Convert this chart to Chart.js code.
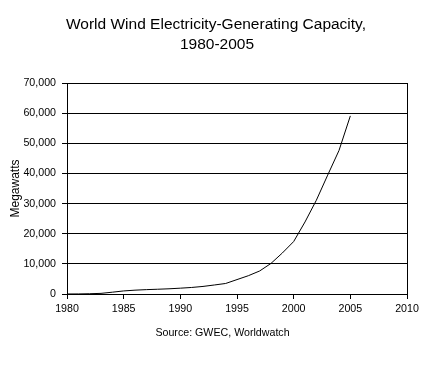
<!DOCTYPE html>
<html>
<head>
<meta charset="utf-8">
<script src="https://cdn.jsdelivr.net/npm/chart.js@4/dist/chart.umd.min.js"></script>
<style>
html,body{margin:0;padding:0;background:#fff;}
canvas{display:block;}
</style>
</head>
<body>
<canvas id="c" width="446" height="388"></canvas>
<script>
const titleLines = ["World Wind Electricity-Generating Capacity,", "1980-2005"];
const sourceText = "Source: GWEC, Worldwatch";
const yAxisTitle = "Megawatts";
const years = [1980,1981,1982,1983,1984,1985,1986,1987,1988,1989,1990,1991,1992,1993,1994,1995,1996,1997,1998,1999,2000,2001,2002,2003,2004,2005];
const capacityMW = [10,25,90,210,600,1020,1270,1450,1580,1730,1930,2170,2510,2990,3490,4780,6070,7640,10150,13600,17400,23900,31100,39431,47620,59084];
const xTicks = [1980,1985,1990,1995,2000,2005,2010];
const yTicks = [0,10000,20000,30000,40000,50000,60000,70000];

const FONT = "'Liberation Sans', Arial, sans-serif";

const textPlugin = {
  id: 'texts',
  afterDraw(chart) {
    const ctx = chart.ctx;
    ctx.save();
    ctx.fillStyle = '#000';
    ctx.textAlign = 'center';
    ctx.textBaseline = 'alphabetic';
    ctx.font = "15.5px " + FONT;
    ctx.fillText(titleLines[0], 216, 29);
    ctx.fillText(titleLines[1], 217, 49);
    ctx.font = "10.67px " + FONT;
    ctx.fillText(sourceText, 222.5, 336);
    ctx.restore();
  }
};

const points = years.map((y, i) => ({x: y, y: capacityMW[i]}));

new Chart(document.getElementById('c'), {
  type: 'line',
  data: {
    datasets: [{
      data: points,
      borderColor: '#000',
      borderWidth: 1,
      pointRadius: 0,
      tension: 0,
      fill: false
    }]
  },
  options: {
    responsive: false,
    animation: false,
    locale: 'en-US',
    layout: { padding: { left: 0, right: 39, top: 83, bottom: 64 } },
    plugins: { legend: { display: false }, tooltip: { enabled: false } },
    scales: {
      x: {
        type: 'linear',
        min: 1980, max: 2010,
        afterBuildTicks(axis) { axis.ticks = xTicks.map(v => ({value: v})); },
        afterFit(axis) { axis.height = 30; },
        ticks: {
          color: '#000',
          font: { family: FONT, size: 10.67 },
          padding: 4,
          maxRotation: 0,
          autoSkip: false,
          callback: v => String(v)
        },
        grid: {
          color: ctx => (ctx.tick && ctx.tick.value === 2010) ? '#000' : 'rgba(0,0,0,0)',
          tickColor: '#000',
          tickLength: 5,
          lineWidth: 1
        },
        border: { color: '#000', width: 1 }
      },
      y: {
        min: 0, max: 70000,
        afterBuildTicks(axis) { axis.ticks = yTicks.map(v => ({value: v})); },
        afterFit(axis) { axis.width = 67; },
        ticks: {
          color: '#000',
          font: { family: FONT, size: 10.67 },
          padding: 6,
          autoSkip: false
        },
        title: {
          display: true,
          text: yAxisTitle,
          color: '#000',
          font: { family: FONT, size: 12 },
          padding: { top: 8, bottom: 0 }
        },
        grid: {
          color: '#000',
          tickColor: '#000',
          tickLength: 5,
          lineWidth: 1
        },
        border: { color: '#000', width: 1 }
      }
    }
  },
  plugins: [textPlugin]
});
</script>
</body>
</html>
